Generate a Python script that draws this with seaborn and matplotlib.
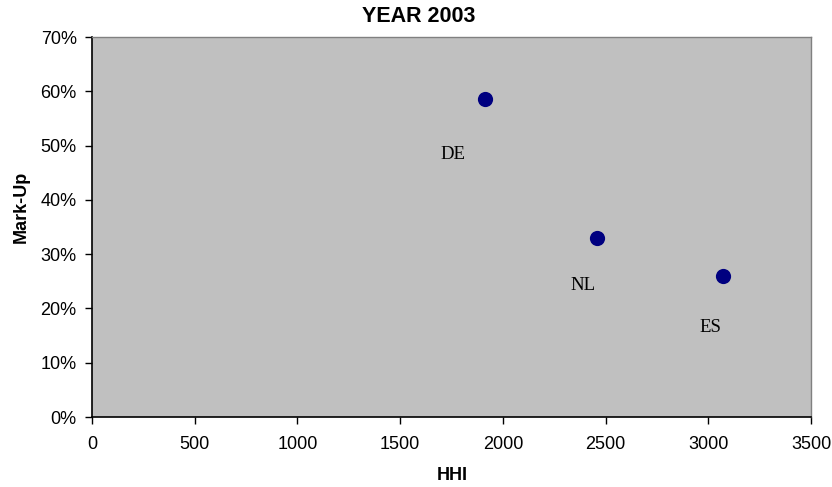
import matplotlib
matplotlib.use("Agg")
import matplotlib.pyplot as plt
import seaborn as sns
import pandas as pd
from matplotlib.ticker import FuncFormatter

# Market concentration (HHI) vs mark-up, 2003
countries = ["DE", "NL", "ES"]
hhi = [1915, 2459, 3073]
markup = [0.586, 0.330, 0.260]

df = pd.DataFrame({"country": countries, "HHI": hhi, "Mark-Up": markup})

sns.set_style("white")
plt.rcParams["font.family"] = ["Liberation Sans", "DejaVu Sans"]
plt.rcParams["text.color"] = "black"
plt.rcParams["axes.labelcolor"] = "black"
plt.rcParams["xtick.color"] = "black"
plt.rcParams["ytick.color"] = "black"

W, H = 832, 487
fig = plt.figure(figsize=(W / 100, H / 100), dpi=100)
ax = fig.add_axes([92 / W, 1 - 417 / H, (811 - 92) / W, (417 - 37) / H])
ax.set_facecolor("#C0C0C0")

sns.scatterplot(data=df, x="HHI", y="Mark-Up", ax=ax, s=120,
                color="#000080", edgecolor="#000080", linewidth=0, legend=False,
                zorder=3)

# country labels sit below-left of each point
label_offsets = {"DE": (-23, -40), "NL": (-10, -34), "ES": (-9, -37)}
for c, x, y in zip(countries, hhi, markup):
    ax.annotate(c, (x, y), xytext=label_offsets[c], textcoords="offset points",
                ha="center", va="center", fontsize=13.5,
                family=["Liberation Serif", "DejaVu Serif"], color="black")

ax.set_xlim(0, 3500)
ax.set_ylim(0, 0.70)
ax.set_xticks(range(0, 3501, 500))
ax.set_yticks([i / 10 for i in range(0, 8)])
ax.yaxis.set_major_formatter(FuncFormatter(lambda v, _: f"{v * 100:.0f}%"))

ax.tick_params(axis="both", which="major", direction="out", length=5, width=1,
               color="black", labelcolor="black", labelsize=13,
               bottom=True, left=True, top=False, right=False)
ax.tick_params(axis="x", pad=9)
ax.tick_params(axis="y", pad=6)

for side in ("left", "bottom"):
    ax.spines[side].set_color("black")
    ax.spines[side].set_linewidth(1.2)
for side in ("top", "right"):
    ax.spines[side].set_color("#808080")
    ax.spines[side].set_linewidth(1.0)

ax.set_xlabel("")
ax.set_ylabel("")
fig.text(419 / W, 1 - 17 / H, "YEAR 2003", fontsize=15.5, fontweight="bold",
         ha="center", va="center")
fig.text(452 / W, 1 - 476 / H, "HHI", fontsize=13, fontweight="bold",
         ha="center", va="center")
fig.text(21.5 / W, 1 - 206.5 / H, "Mark-Up", fontsize=13, fontweight="bold",
         ha="center", va="center", rotation=90)

fig.savefig("out.png", dpi=100)
